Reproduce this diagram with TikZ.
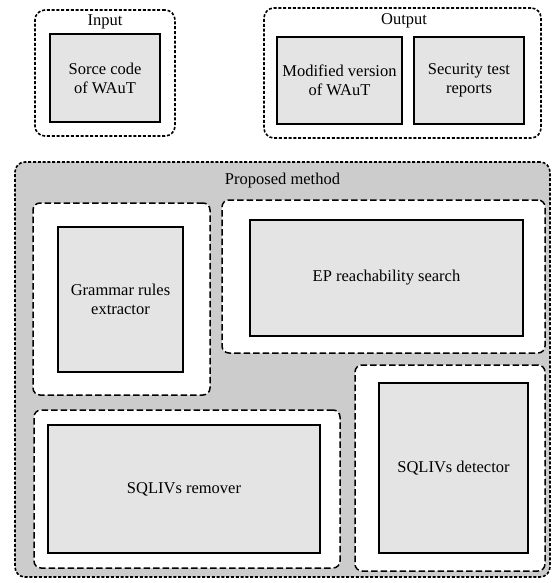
\documentclass[tikz,border=0pt]{standalone}
\usepackage{fontspec}
\setmainfont{Liberation Serif}
\definecolor{boxgray}{HTML}{E4E4E4}
\definecolor{pmgray}{HTML}{CCCCCC}
\tikzset{
  x=1pt, y=-1pt,
  every node/.style={inner sep=0pt, outer sep=0pt, font=\rmfamily\fontsize{16.5}{19}\selectfont, align=center},
  group/.style={draw=black, line width=1.6pt, dash pattern=on 3pt off 1.8pt, rounded corners=10pt},
  subgroup/.style={draw=black, fill=white, line width=1.5pt, dash pattern=on 6.5pt off 3pt, rounded corners=7pt},
  stepbox/.style={draw=black, fill=boxgray, line width=1.5pt},
  lbl/.style={}
}
\begin{document}
\begin{tikzpicture}
\useasboundingbox (0,0) rectangle (552,583);
% Input
\node[group, minimum width=140pt, minimum height=126pt] (ingrp) at (105,73) {};
\node[lbl] (inlbl) at (105,22) {Input};
\node[stepbox, minimum width=110pt, minimum height=88pt] (src) at (105,78) {Sorce code\\of WAuT};
% Output
\node[group, minimum width=277pt, minimum height=130pt] (outgrp) at (402.5,73) {};
\node[lbl] (outlbl) at (404,21) {Output};
\node[stepbox, minimum width=125pt, minimum height=87pt] (mod) at (339.5,80.5) {Modified version\\of WAuT};
\node[stepbox, minimum width=110pt, minimum height=87pt] (rep) at (469,80.5) {Security test\\reports};
% Proposed method
\node[group, fill=pmgray, minimum width=535pt, minimum height=415pt] (pm) at (282.5,369.5) {};
\node[lbl] (pmlbl) at (282.5,181) {Proposed method};
% Grammar
\node[subgroup, minimum width=177pt, minimum height=192pt] (gramgrp) at (121.5,299) {};
\node[stepbox, minimum width=125pt, minimum height=145pt] (gram) at (120.5,299.5) {Grammar rules\\extractor};
% EP
\node[subgroup, minimum width=323pt, minimum height=153pt] (epgrp) at (383.5,276.5) {};
\node[stepbox, minimum width=273pt, minimum height=116pt] (ep) at (386.5,278) {EP reachability search};
% Detector
\node[subgroup, minimum width=190pt, minimum height=206pt] (detgrp) at (450,468) {};
\node[stepbox, minimum width=149pt, minimum height=170pt] (det) at (453.5,468) {SQLIVs detector};
% Remover
\node[subgroup, minimum width=306pt, minimum height=158pt] (remgrp) at (187,489) {};
\node[stepbox, minimum width=272pt, minimum height=128pt] (rem) at (184,489) {SQLIVs remover};
\end{tikzpicture}
\end{document}
